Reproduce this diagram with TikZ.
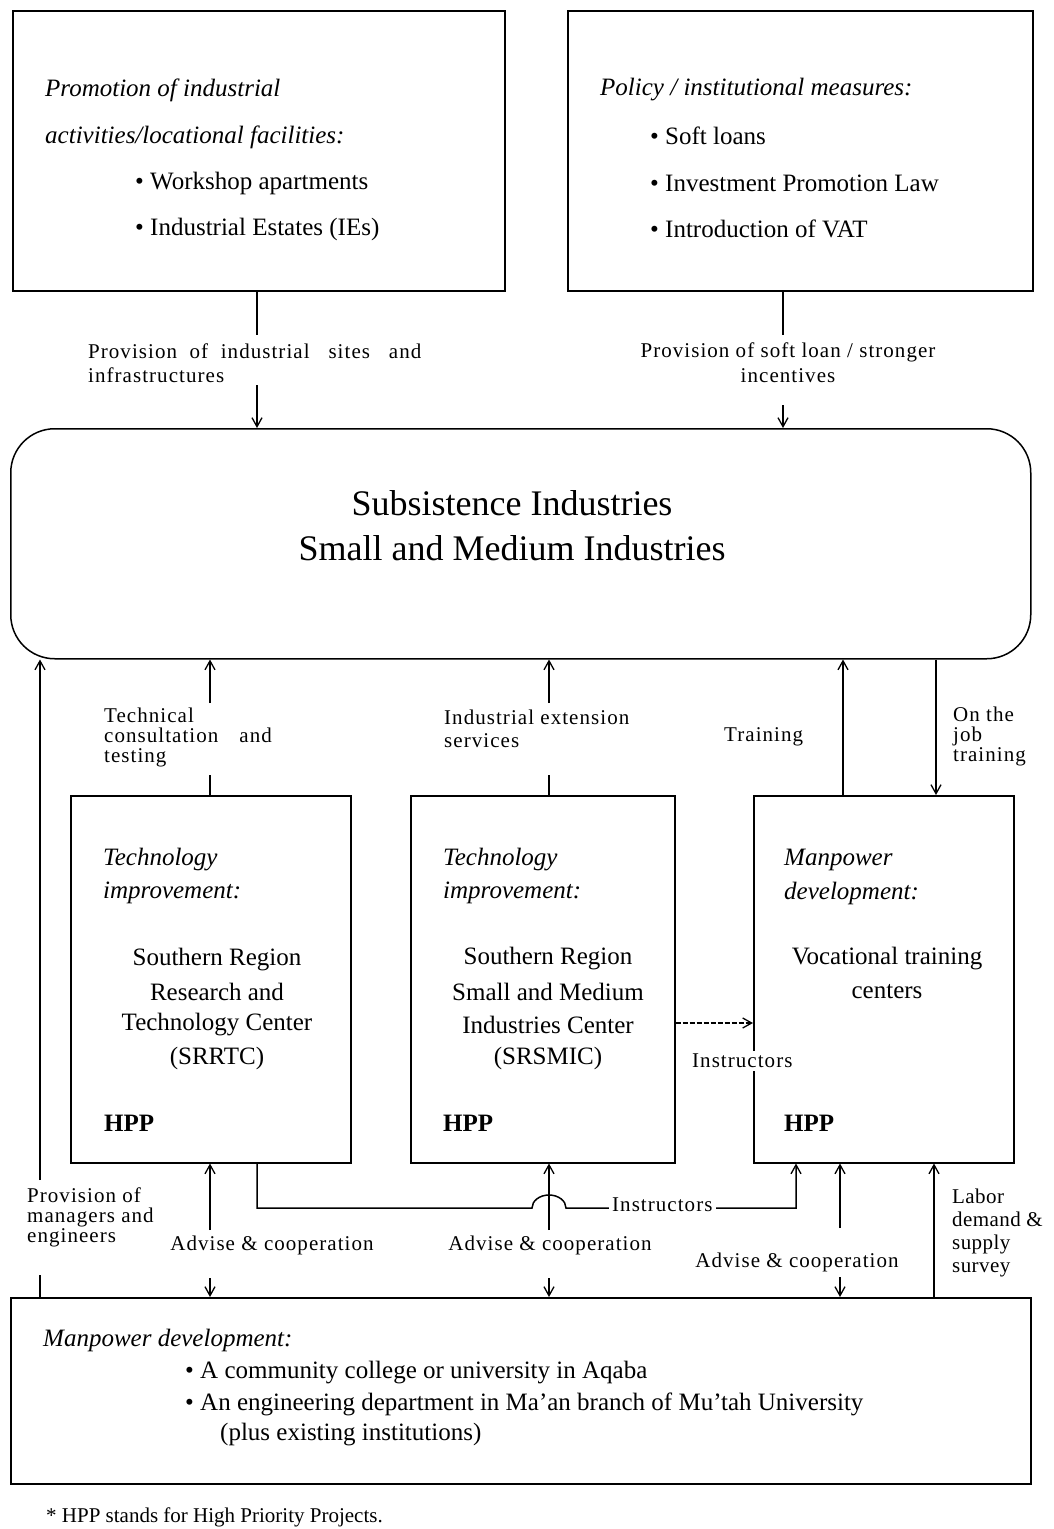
\documentclass[tikz,border=0pt]{standalone}
\usepackage{fontspec}
\setmainfont{Liberation Serif}
\usetikzlibrary{arrows.meta}
\newcommand{\lblfont}[1]{\fontsize{21}{#1}\selectfont\addfontfeature{LetterSpace=5}}
\begin{document}
\begin{tikzpicture}[x=1pt,y=-1pt,
  box/.style={draw, line width=1.5pt, inner sep=0pt, anchor=north west},
  tx/.style={font=\fontsize{25}{30}\selectfont, inner sep=0pt, anchor=west},
  itx/.style={tx, font=\fontsize{25}{30}\selectfont\itshape},
  ctx/.style={tx, anchor=center},
  btx/.style={tx, font=\fontsize{25}{30}\selectfont\bfseries},
  lbl/.style={font=\lblfont{22}, inner sep=0pt, anchor=west, align=left},
  clbl/.style={lbl, anchor=center, align=center},
  wlbl/.style={lbl, fill=white, inner sep=3pt},
  ttl/.style={font=\fontsize{36}{40}\selectfont, inner sep=0pt, anchor=center},
  conn/.style={line width=1.5pt},
  arr/.style={conn, -{Straight Barb[length=9pt,width=10pt,line width=1.3pt]}},
  darr/.style={arr, dashed, dash pattern=on 5pt off 2pt}
]
\useasboundingbox (0,0) rectangle (1054,1529);

% boxes
\node[box, minimum width=492pt, minimum height=280pt] (tl) at (12,10) {};
\node[box, minimum width=465pt, minimum height=280pt] (tr) at (567,10) {};
\node[box, rounded corners=44pt, minimum width=1020pt, minimum height=230pt] (sub) at (10,428) {};
\node[box, minimum width=280pt, minimum height=367pt] (b1) at (70,795) {};
\node[box, minimum width=264pt, minimum height=367pt] (b2) at (410,795) {};
\node[box, minimum width=260pt, minimum height=367pt] (b3) at (753,795) {};
\node[box, minimum width=1020pt, minimum height=186pt] (bot) at (10,1297) {};

% top-left text
\node[itx] (tl1) at (45,90) {Promotion of industrial};
\node[itx] (tl2) at (45,137) {activities/locational facilities:};
\node[tx] (tl3) at (135,183) {\textbullet\ Workshop apartments};
\node[tx] (tl4) at (135,229) {\textbullet\ Industrial Estates (IEs)};
% top-right text
\node[itx] (tr1) at (600,90) {Policy / institutional measures:};
\node[tx] (tr2) at (650,136) {\textbullet\ Soft loans};
\node[tx] (tr3) at (650,183) {\textbullet\ Investment Promotion Law};
\node[tx] (tr4) at (650,229) {\textbullet\ Introduction of VAT};

% top labels
\node[lbl, font=\lblfont{24}] (la) at (88,363) {Provision \ of \ industrial \ \ sites \ \ and\\infrastructures};
\node[clbl, font=\lblfont{25}] (lb) at (788,363) {Provision of soft loan / stronger\\incentives};

% title
\node[ttl] (s1) at (512,503) {Subsistence Industries};
\node[ttl] (s2) at (512,548) {Small and Medium Industries};

% middle labels
\node[lbl, font=\lblfont{20}] (m1) at (104,737) {Technical\\consultation\quad and\\testing};
\node[lbl, font=\lblfont{23}] (m4) at (444,729) {Industrial extension\\services};
\node[lbl] (m6) at (724,737) {Training};
\node[lbl, font=\lblfont{20}] (m7) at (953,736) {On the\\job\\training};

% box 1
\node[itx] (a1) at (103,860) {Technology};
\node[itx] (a2) at (103,893) {improvement:};
\node[ctx] (a3) at (217,960) {Southern Region};
\node[ctx] (a4) at (217,992) {Research and};
\node[ctx] (a5) at (217,1025) {Technology Center};
\node[ctx] (a6) at (217,1058) {(SRRTC)};
\node[btx] (a7) at (104,1123) {HPP};
% box 2
\node[itx] (c1) at (443,860) {Technology};
\node[itx] (c2) at (443,893) {improvement:};
\node[ctx] (c3) at (548,959) {Southern Region};
\node[ctx] (c4) at (548,992) {Small and Medium};
\node[ctx] (c5) at (548,1025) {Industries Center};
\node[ctx] (c6) at (548,1058) {(SRSMIC)};
\node[btx] (c7) at (443,1123) {HPP};
% box 3
\node[itx] (d1) at (784,860) {Manpower};
\node[itx] (d2) at (784,893) {development:};
\node[ctx] (d3) at (887,959) {Vocational training};
\node[ctx] (d4) at (887,992) {centers};
\node[btx] (d5) at (784,1123) {HPP};

% bottom box
\node[itx] (e1) at (43,1340) {Manpower development:};
\node[tx] (e2) at (185,1373) {\textbullet\ A community college or university in Aqaba};
\node[tx] (e3) at (185,1404) {\textbullet\ An engineering department in Ma’an branch of Mu’tah University};
\node[tx] (e4) at (220,1435) {(plus existing institutions)};
\node[lbl, font=\fontsize{21}{24}\selectfont] (fn) at (46,1517) {* HPP stands for High Priority Projects.};

% connectors top
\draw[conn] (tl.south -| 257,0) -- (257,335);
\draw[arr] (257,385) -- (sub.north -| 257,0);
\draw[conn] (tr.south -| 783,0) -- (783,335);
\draw[arr] (783,405) -- (sub.north -| 783,0);

% connectors middle
\draw[conn] (b1.north -| 210,0) -- (210,775);
\draw[arr] (210,703) -- (sub.south -| 210,0);
\draw[conn] (b2.north -| 549,0) -- (549,775);
\draw[arr] (549,703) -- (sub.south -| 549,0);
\draw[arr] (b3.north -| 843,0) -- (sub.south -| 843,0);
\draw[arr] (sub.south -| 936,0) -- (b3.north -| 936,0);
\draw[darr] (b2.east |- 0,1023) -- (b3.west |- 0,1023);

% left long connector
\draw[conn] (bot.north -| 40,0) -- (40,1275);
\draw[arr] (40,1180) -- (sub.south -| 40,0);

% lower connectors
\draw[arr] (210,1230) -- (b1.south -| 210,0);
\draw[arr] (210,1278) -- (bot.north -| 210,0);
\draw[arr] (549,1230) -- (b2.south -| 549,0);
\draw[arr] (549,1278) -- (bot.north -| 549,0);
\draw[arr] (840,1228) -- (b3.south -| 840,0);
\draw[arr] (840,1277) -- (bot.north -| 840,0);
\draw[arr] (bot.north -| 934,0) -- (b3.south -| 934,0);
\draw[arr] (b1.south -| 257,0) -- (257,1208) -- (532,1208)
  arc[start angle=180, end angle=0, x radius=17pt, y radius=13pt]
  -- (796,1208) -- (b3.south -| 796,0);

% labels over lines
\node[wlbl] (in1) at (689,1061) {Instructors};
\node[wlbl] (in2) at (609,1205) {Instructors};

\node[lbl, font=\lblfont{20}] (p1) at (27,1217) {Provision of\\managers and\\engineers};
\node[clbl] (ad1) at (272,1245) {Advise \& cooperation};
\node[clbl] (ad2) at (550,1245) {Advise \& cooperation};
\node[clbl] (ad3) at (797,1262) {Advise \& cooperation};
\node[lbl, font=\fontsize{21}{23.3}\selectfont\addfontfeature{LetterSpace=2}] (lb3) at (952,1233) {Labor\\demand \&\\supply\\survey};
\end{tikzpicture}
\end{document}
